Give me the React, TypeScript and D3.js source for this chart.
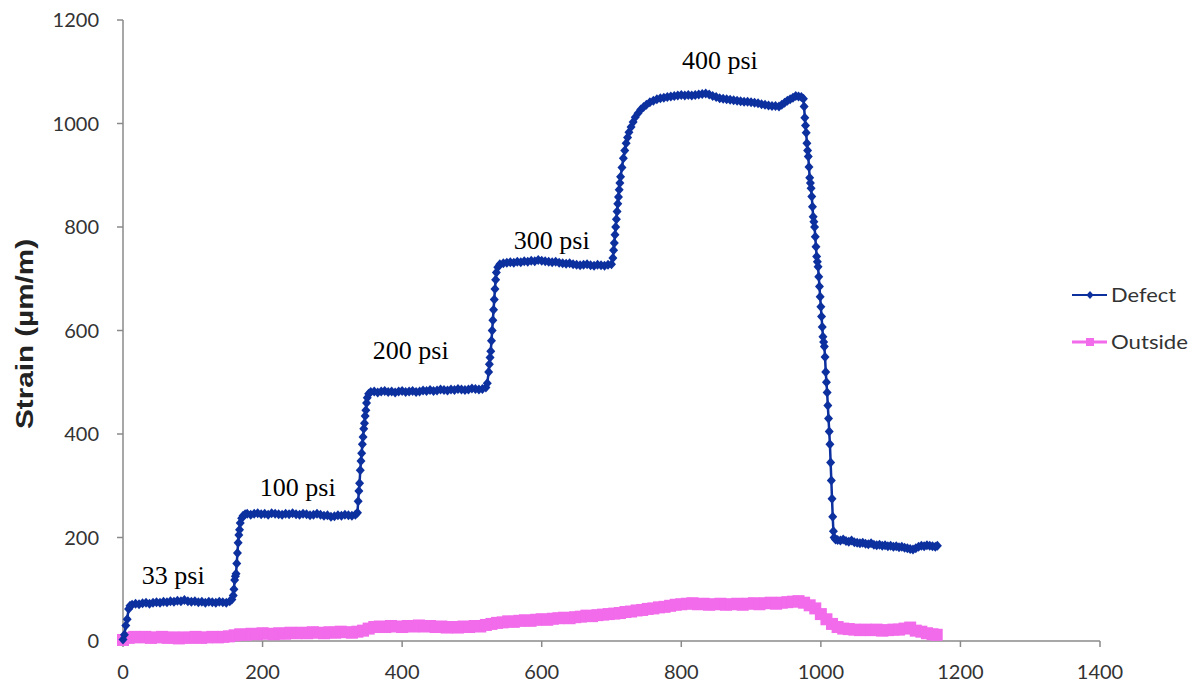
import React from "react";
import * as d3 from "d3";

// ---------- data ----------
const xTicks = [0, 200, 400, 600, 800, 1000, 1200, 1400];
const yTicks = [0, 200, 400, 600, 800, 1000, 1200];
const seriesNames = ["Defect", "Outside"];

const defectX = [
  0, 2, 4, 6, 8, 10,
  13, 18, 23, 28, 33, 38, 43, 48, 53, 58, 63, 68, 73, 78, 83, 88, 93, 98, 103, 108, 113, 118, 123, 128, 133, 138, 143, 148, 153, 156,
  158, 159, 160, 161, 162, 163, 164, 165, 166, 167, 168, 170, 172, 175,
  178, 183, 188, 193, 198, 203, 208, 213, 218, 223, 228, 233, 238, 243, 248, 253, 258, 263, 268, 273, 278, 283, 288, 293, 298, 303, 308, 313, 318, 323, 328, 333, 336,
  337, 338, 339, 340, 341, 342, 343, 344, 345, 346, 347, 348, 349, 350, 352, 355,
  360, 365, 370, 375, 380, 385, 390, 395, 400, 405, 410, 415, 420, 425, 430, 435, 440, 445, 450, 455, 460, 465, 470, 475, 480, 485, 490, 495, 500, 505, 510, 515, 520,
  522, 524, 525, 526, 527, 528, 529, 530, 531, 532, 533, 534, 535, 537, 540,
  545, 550, 555, 560, 565, 570, 575, 580, 585, 590, 595, 600, 605, 610, 615, 620, 625, 630, 635, 640, 645, 650, 655, 660, 665, 670, 675, 680, 685, 690, 695, 700,
  702, 703, 704, 705, 706, 707, 708, 709, 710, 711, 712, 713, 715, 717, 719, 721, 723, 725, 728, 731, 734, 738, 742, 746, 750, 755, 760, 765, 770, 775, 780, 785, 790, 795, 800, 805, 810, 815, 820, 825, 830, 835, 840, 845, 850, 855, 860, 865, 870, 875, 880, 885, 890, 895, 900, 905, 910, 915, 920, 925, 930, 935, 940, 944, 948, 952, 956, 960, 964, 968, 972, 975,
  976, 977, 978, 979, 980, 981, 982, 983, 984, 985, 986, 987, 988, 989, 990, 991, 992, 993, 994, 995, 996, 997, 998, 999, 1000, 1001, 1002, 1003, 1004, 1005, 1006, 1007, 1008, 1009, 1010, 1011, 1012, 1013, 1014, 1015, 1016, 1017, 1018, 1019, 1021,
  1024, 1028, 1032, 1036, 1040, 1044, 1048, 1052, 1056, 1060, 1064, 1068, 1072, 1076, 1080, 1084, 1088, 1092, 1096, 1100, 1104, 1108, 1112, 1116, 1120, 1124, 1128, 1132, 1136, 1140, 1144, 1148, 1152, 1156, 1160, 1164, 1167,
];
const defectY = [
  3, 12, 30, 42, 62, 68,
  70, 72, 71, 73, 74, 72, 74, 75, 74, 76, 75, 77, 76, 78, 77, 79, 77, 76, 77, 75, 76, 74, 76, 75, 74, 76, 75, 74, 77, 80,
  88, 100, 118, 125, 130, 150, 170, 190, 205, 215, 228, 237, 242, 245,
  246, 244, 246, 247, 245, 246, 244, 247, 246, 245, 244, 246, 245, 247, 245, 244, 246, 245, 243, 244, 246, 244, 242, 243, 240, 241, 243, 242, 244, 243, 242, 244, 248,
  270, 290, 305, 330, 348, 363, 380, 394, 410, 421, 435, 446, 460, 470, 478, 481,
  482, 480, 482, 483, 481, 482, 480, 482, 483, 481, 482, 483, 481, 482, 484, 483, 485, 483, 484, 486, 485, 484, 486, 485, 487, 486, 485, 486, 488, 487, 486, 487, 490,
  498, 520, 535, 548, 560, 580, 600, 620, 640, 660, 680, 698, 712, 722, 728,
  730, 731, 732, 731, 733, 732, 734, 733, 735, 734, 736, 735, 734, 733, 732, 733, 731, 730, 729, 730, 728, 727, 726, 727, 728, 726, 725, 727, 726, 725, 727, 728,
  740, 755, 769, 785, 800, 815, 830, 845, 858, 872, 885, 897, 915, 933, 948, 962, 973, 983, 993, 1003, 1012, 1020, 1027, 1032, 1036, 1041, 1044, 1047, 1049, 1050, 1051, 1052, 1053, 1054, 1055, 1054, 1055, 1054, 1055, 1056, 1057, 1058, 1056, 1053, 1051, 1049, 1048, 1047, 1046, 1045, 1044, 1043, 1042, 1042, 1041, 1040, 1039, 1037, 1036, 1035, 1034, 1034, 1033, 1036, 1040, 1044, 1047, 1050, 1053, 1052, 1051, 1048,
  1033, 1011, 996, 982, 962, 948, 936, 916, 895, 885, 875, 859, 839, 820, 810, 800, 781, 762, 743, 733, 723, 704, 685, 665, 646, 627, 607, 588, 578, 569, 549, 520, 500, 480, 455, 430, 405, 380, 345, 310, 275, 240, 212, 200, 196,
  195, 194, 196, 193, 192, 194, 191, 190, 189, 190, 188, 187, 189, 186, 185, 186, 184, 185, 183, 184, 182, 183, 181, 182, 180, 179, 178, 177, 179, 182, 184, 183, 185, 184, 183, 182, 184,
];

const outsideX = [
  0, 8, 16, 24, 32, 40, 48, 56, 64, 72, 80, 88, 96, 104, 112, 120, 128, 136, 144, 152, 160, 168, 176, 184, 192, 200,
  208, 216, 224, 232, 240, 248, 256, 264, 272, 280, 288, 296, 304, 312, 320, 328, 336, 344, 352, 360, 368, 376, 384, 392, 400,
  408, 416, 424, 432, 440, 448, 456, 464, 472, 480, 488, 496, 504, 512, 520, 528, 536, 544, 552, 560, 568, 576, 584, 592, 600,
  608, 616, 624, 632, 640, 648, 656, 664, 672, 680, 688, 696, 704, 712, 720, 728, 736, 744, 752, 760, 768, 776, 784, 792, 800,
  808, 816, 824, 832, 840, 848, 856, 864, 872, 880, 888, 896, 904, 912, 920, 928, 936, 944, 952, 960, 968, 976, 984, 992, 1000,
  1008, 1016, 1024, 1032, 1040, 1048, 1056, 1064, 1072, 1080, 1088, 1096, 1104, 1112, 1120, 1128, 1136, 1144, 1152, 1160, 1166,
];
const outsideY = [
  2, 6, 8, 7, 8, 6, 7, 8, 6, 7, 5, 7, 6, 8, 6, 7, 8, 7, 8, 9, 11, 13, 12, 14, 13, 15,
  14, 13, 15, 14, 16, 15, 16, 15, 17, 16, 15, 17, 16, 18, 17, 16, 18, 20, 24, 27, 28, 27, 29, 28, 27,
  29, 28, 30, 28, 29, 27, 28, 26, 27, 26, 28, 27, 29, 28, 31, 33, 35, 36, 38, 37, 39, 40, 39, 41, 42,
  41, 43, 44, 45, 44, 46, 47, 49, 48, 50, 51, 52, 53, 54, 56, 57, 59, 60, 62, 63, 65, 66, 68, 70, 71,
  72, 73, 71, 72, 70, 71, 72, 70, 71, 72, 70, 72, 73, 71, 73, 74, 72, 74, 75, 76, 77, 74, 69, 63, 52,
  42, 33, 27, 24, 23, 22, 21, 22, 21, 22, 20, 21, 22, 22, 24, 26, 20, 18, 15, 13, 12,
];

const annotationLabels = ["33 psi", "100 psi", "200 psi", "300 psi", "400 psi"];
const annotationX = [27, 196, 358, 560, 801];
const annotationY = [110, 280, 545, 757, 1105];

// ---------- styles ----------
const DEFECT = "#0D309F";
const OUTSIDE = "#F26BEB";
const AXIS = "#8a8a8a";
const TEXT = "#333333";

export default function App() {
  const x = d3.scaleLinear().domain([0, 1400]).range([123, 1100]);
  const y = d3.scaleLinear().domain([0, 1200]).range([641, 20]);

  const defect = defectX.map((v, i) => [v, defectY[i]] as [number, number]);
  const outside = outsideX.map((v, i) => [v, outsideY[i]] as [number, number]);

  const line = d3
    .line<[number, number]>()
    .x((d) => x(d[0]))
    .y((d) => y(d[1]));

  const diamond = "M0,-5L4.5,0L0,5L-4.5,0Z";
  const sq = 12;

  return (
    <div style={{ position: "absolute", left: 0, top: 0 }}>
      <svg width={1192} height={682} style={{ display: "block", background: "#fff" }}>
        {/* axes */}
        <line x1={x(0)} x2={x(0)} y1={y(1200)} y2={y(0)} stroke={AXIS} strokeWidth={1.5} />
        <line x1={x(0)} x2={x(1400)} y1={y(0)} y2={y(0)} stroke={AXIS} strokeWidth={1.5} />
        {yTicks.map((t) => (
          <g key={"yt" + t}>
            <line x1={x(0) - 6} x2={x(0)} y1={y(t)} y2={y(t)} stroke={AXIS} strokeWidth={1.5} />
            <text
              x={99}
              y={y(t)}
              dy="0.36em"
              textAnchor="end"
              fontFamily="Lato, 'Open Sans', sans-serif"
              fontSize={20}
              fill={TEXT}
            >
              {t}
            </text>
          </g>
        ))}
        {xTicks.map((t) => (
          <g key={"xt" + t}>
            <line x1={x(t)} x2={x(t)} y1={y(0)} y2={y(0) + 6} stroke={AXIS} strokeWidth={1.5} />
            <text
              x={x(t)}
              y={672}
              dy="0.36em"
              textAnchor="middle"
              fontFamily="Lato, 'Open Sans', sans-serif"
              fontSize={20}
              fill={TEXT}
            >
              {t}
            </text>
          </g>
        ))}
        <text
          transform="translate(33,334) rotate(-90)"
          textAnchor="middle"
          fontFamily="'Liberation Sans', Arial, sans-serif"
          fontWeight="bold"
          fontSize={24}
          textLength={190}
          lengthAdjust="spacingAndGlyphs"
          fill="#222"
        >
          Strain (µm/m)
        </text>

        {/* Outside series */}
        <path d={line(outside) || ""} fill="none" stroke={OUTSIDE} strokeWidth={6} />
        {outside.map((d, i) => (
          <rect
            key={"o" + i}
            x={x(d[0]) - sq / 2}
            y={y(d[1]) - sq / 2}
            width={sq}
            height={sq}
            fill={OUTSIDE}
          />
        ))}

        {/* Defect series */}
        <path d={line(defect) || ""} fill="none" stroke={DEFECT} strokeWidth={2.5} />
        {defect.map((d, i) => (
          <path key={"d" + i} d={diamond} transform={`translate(${x(d[0])},${y(d[1])})`} fill={DEFECT} />
        ))}

        {/* annotations */}
        {annotationLabels.map((t, i) => (
          <text
            key={"a" + i}
            x={x(annotationX[i])}
            y={y(annotationY[i])}
            fontFamily="'Liberation Serif', 'Times New Roman', serif"
            fontSize={26}
            fill="#000"
          >
            {t}
          </text>
        ))}

        {/* legend */}
        {seriesNames.map((name, i) => {
          const ly = 295 + i * 47;
          const color = i === 0 ? DEFECT : OUTSIDE;
          return (
            <g key={"l" + i}>
              <line x1={1072} x2={1107} y1={ly} y2={ly} stroke={color} strokeWidth={i === 0 ? 2 : 3} />
              {i === 0 ? (
                <path d="M0,-4L3.6,0L0,4L-3.6,0Z" transform={`translate(1090,${ly})`} fill={color} />
              ) : (
                <rect x={1090 - 4} y={ly - 4} width={8} height={8} fill={color} />
              )}
              <text
                x={1111}
                y={ly}
                dy="0.36em"
                fontFamily="Lato, 'Open Sans', sans-serif"
                fontSize={20}
                textLength={i === 0 ? 65 : 77}
                lengthAdjust="spacingAndGlyphs"
                fill={TEXT}
              >
                {name}
              </text>
            </g>
          );
        })}
      </svg>
    </div>
  );
}
